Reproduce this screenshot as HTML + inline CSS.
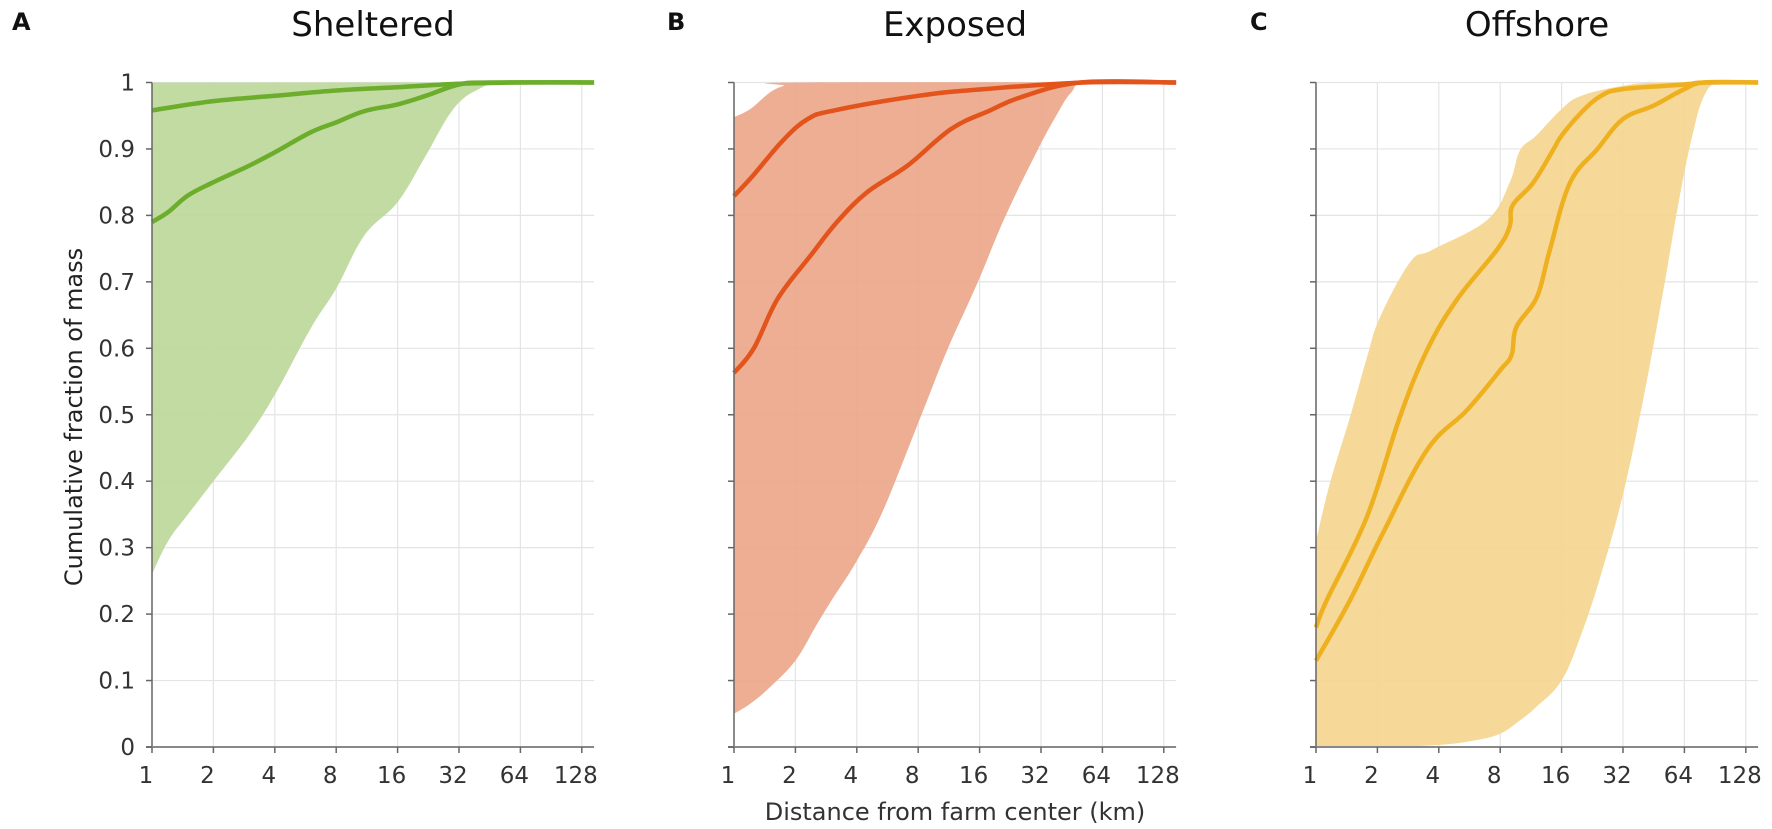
<!DOCTYPE html>
<html><head><meta charset="utf-8">
<style>
html,body{margin:0;padding:0;background:#fff;}
svg{display:block;font-family:"DejaVu Sans","Liberation Sans",sans-serif;}
</style></head>
<body>
<svg id="chart" width="1772" height="829" viewBox="0 0 1772 829" xmlns="http://www.w3.org/2000/svg">
<text x="0" y="0" transform="translate(82,417) rotate(-90)" text-anchor="middle" font-size="24" fill="#222">Cumulative fraction of mass</text>
<text x="955" y="820" text-anchor="middle" font-size="24" fill="#333">Distance from farm center (km)</text>
</svg>
<script>
// ---- data ----
const xTicks = [1, 2, 4, 8, 16, 32, 64, 128];
const xTickLabels = ["1", "2", "4", "8", "16", "32", "64", "128"];
const yTicks = [0, 0.1, 0.2, 0.3, 0.4, 0.5, 0.6, 0.7, 0.8, 0.9, 1];
const yTickLabels = ["0", "0.1", "0.2", "0.3", "0.4", "0.5", "0.6", "0.7", "0.8", "0.9", "1"];
const panelTitles = ["Sheltered", "Exposed", "Offshore"];
const panelLetters = ["A", "B", "C"];

// Sheltered
const aBandUpX = [1, 150];
const aBandUpY = [1, 1];
const aBandLoX = [1, 1.2, 1.5, 2, 3, 4, 6, 8, 11, 16, 22, 30, 40, 55, 150];
const aBandLoY = [0.26, 0.31, 0.35, 0.40, 0.47, 0.53, 0.63, 0.69, 0.77, 0.82, 0.89, 0.96, 0.99, 1, 1];
const aLine1X = [1, 2, 4, 8, 16, 32, 64, 150];
const aLine1Y = [0.958, 0.972, 0.98, 0.988, 0.993, 0.998, 1, 1];
const aLine2X = [1, 1.2, 1.5, 2, 3, 4, 6, 8, 11, 16, 22, 32, 45, 150];
const aLine2Y = [0.79, 0.805, 0.83, 0.85, 0.875, 0.895, 0.925, 0.94, 0.957, 0.967, 0.98, 0.997, 1, 1];

// Exposed
const bBandUpX = [1, 1.2, 1.5, 1.76, 2.1, 150];
const bBandUpY = [0.948, 0.96, 0.985, 0.995, 1, 1];
const bBandLoX = [1, 1.2, 1.5, 2, 2.5, 3, 4, 5.4, 8.3, 11.2, 15.7, 21.5, 31, 38, 45, 55, 150];
const bBandLoY = [0.05, 0.065, 0.09, 0.13, 0.18, 0.22, 0.28, 0.357, 0.5, 0.6, 0.7, 0.8, 0.9, 0.95, 0.985, 1, 1];
const bLine1X = [1, 1.24, 1.74, 2.3, 3.1, 8, 16.8, 52, 150];
const bLine1Y = [0.829, 0.86, 0.913, 0.945, 0.958, 0.98, 0.99, 1, 1];
const bLine2X = [1, 1.25, 1.64, 2.38, 3.2, 4.5, 7.1, 11.6, 18, 25.6, 50, 150];
const bLine2Y = [0.563, 0.6, 0.675, 0.74, 0.79, 0.835, 0.875, 0.93, 0.958, 0.978, 1, 1];

// Offshore
const cBandUpX = [1, 1.17, 1.47, 1.78, 2.06, 2.9, 3.7, 6.9, 8.9, 10, 12, 16, 20, 32, 50, 150];
const cBandUpY = [0.31, 0.397, 0.497, 0.587, 0.647, 0.73, 0.748, 0.793, 0.849, 0.898, 0.92, 0.96, 0.98, 0.995, 1, 1];
const cBandLoX = [1, 2, 4, 6, 8, 10, 12, 16, 20, 25, 32, 40, 50, 60, 70, 80, 95, 150];
const cBandLoY = [0, 0, 0.003, 0.01, 0.02, 0.04, 0.06, 0.1, 0.17, 0.26, 0.38, 0.52, 0.68, 0.82, 0.92, 0.98, 1, 1];
const cLine1X = [1, 1.13, 1.78, 2.58, 3.5, 4.9, 7.7, 8.9, 9.2, 11.6, 14.5, 16, 20, 25, 32, 64, 80, 150];
const cLine1Y = [0.18, 0.221, 0.347, 0.497, 0.597, 0.673, 0.748, 0.783, 0.815, 0.849, 0.898, 0.92, 0.955, 0.98, 0.99, 0.997, 1, 1];
const cLine2X = [1, 1.47, 2.13, 3.5, 5.5, 8, 9.1, 9.6, 12.1, 14, 17.6, 24, 32, 45, 64, 80, 150];
const cLine2Y = [0.13, 0.221, 0.322, 0.447, 0.507, 0.567, 0.59, 0.632, 0.677, 0.748, 0.849, 0.9, 0.945, 0.965, 0.99, 1, 1];

const panels = [
  {bandUpX: aBandUpX, bandUpY: aBandUpY, bandLoX: aBandLoX, bandLoY: aBandLoY, l1x: aLine1X, l1y: aLine1Y, l2x: aLine2X, l2y: aLine2Y, fill: "#bcd89b", line: "#6cad2c", key: "sheltered"},
  {bandUpX: bBandUpX, bandUpY: bBandUpY, bandLoX: bBandLoX, bandLoY: bBandLoY, l1x: bLine1X, l1y: bLine1Y, l2x: bLine2X, l2y: bLine2Y, fill: "#eba78a", line: "#e2541b", key: "exposed"},
  {bandUpX: cBandUpX, bandUpY: cBandUpY, bandLoX: cBandLoX, bandLoY: cBandLoY, l1x: cLine1X, l1y: cLine1Y, l2x: cLine2X, l2y: cLine2Y, fill: "#f5d690", line: "#efb01f", key: "offshore"}
];

// ---- layout ----
const NS = "http://www.w3.org/2000/svg";
const svg = document.getElementById("chart");
const panelX0 = [152, 734, 1316];
const letterX = [12, 667, 1250];
const octave = 61.4;
const xMaxLog = 7.2;
const yTop = 82.5, yBot = 747;
function yScale(v) { return yBot - v * (yBot - yTop); }
function mk(tag, attrs, parent) {
  const e = document.createElementNS(NS, tag);
  for (const k in attrs) e.setAttribute(k, attrs[k]);
  (parent || svg).appendChild(e);
  return e;
}
function clipLog(v) { return Math.min(Math.log2(v), xMaxLog); }
// Catmull-Rom smoothed path segment through points (without leading M if cont)
function smooth(pts, cont) {
  let d = (cont ? "L" : "M") + pts[0][0].toFixed(1) + "," + pts[0][1].toFixed(1);
  for (let i = 0; i < pts.length - 1; i++) {
    const p0 = pts[Math.max(0, i - 1)], p1 = pts[i], p2 = pts[i + 1], p3 = pts[Math.min(pts.length - 1, i + 2)];
    const t = 0.18;
    const c1x = p1[0] + (p2[0] - p0[0]) * t, c1y = p1[1] + (p2[1] - p0[1]) * t;
    const c2x = p2[0] - (p3[0] - p1[0]) * t, c2y = p2[1] - (p3[1] - p1[1]) * t;
    d += "C" + c1x.toFixed(1) + "," + c1y.toFixed(1) + " " + c2x.toFixed(1) + "," + c2y.toFixed(1) + " " + p2[0].toFixed(1) + "," + p2[1].toFixed(1);
  }
  return d;
}

panels.forEach((p, i) => {
  const x0 = panelX0[i];
  const xScale = v => x0 + clipLog(v) * octave;
  const xEnd = x0 + xMaxLog * octave;
  const g = mk("g", {});
  
  

  xTicks.forEach((t) => {
    const gl = mk("line", {x1: xScale(t), x2: xScale(t), y1: yTop, y2: yBot, stroke: "#e4e4e4", "stroke-width": 1.2}, g);
    
    
  });
  yTicks.forEach((t) => {
    const gl = mk("line", {x1: x0, x2: xEnd, y1: yScale(t), y2: yScale(t), stroke: "#e4e4e4", "stroke-width": 1.2}, g);
    
    
  });

  const up = p.bandUpX.map((x, k) => [xScale(x), yScale(p.bandUpY[k])]);
  const lo = p.bandLoX.map((x, k) => [xScale(x), yScale(p.bandLoY[k])]).reverse();
  const d = smooth(up, false) + smooth(lo, true) + "Z";
  const band = mk("path", {d: d, fill: p.fill, "fill-opacity": 0.92, stroke: "none"}, g);
  
  

  [[p.l1x, p.l1y, "upper"], [p.l2x, p.l2y, "lower"]].forEach(([xs, ys, nm]) => {
    const pts = xs.map((x, k) => [xScale(x), yScale(ys[k])]);
    const pl = mk("path", {d: smooth(pts, false), fill: "none", stroke: p.line, "stroke-width": 4.5, "stroke-linejoin": "round"}, g);
    
    
  });

  const ax = mk("line", {x1: x0, x2: x0, y1: yTop, y2: yBot, stroke: "#666", "stroke-width": 1.5}, g);
  
  
  const bx = mk("line", {x1: x0 - 6, x2: xEnd, y1: yBot, y2: yBot, stroke: "#888", "stroke-width": 2}, g);
  
  

  yTicks.forEach((t, j) => {
    const tk = mk("line", {x1: x0 - 6, x2: x0, y1: yScale(t), y2: yScale(t), stroke: "#666", "stroke-width": 1.5}, g);
    
    
    if (i === 0) {
      const lb = mk("text", {x: x0 - 17, y: yScale(t) + 8, "text-anchor": "end", "font-size": 23, fill: "#333"}, g);
      lb.textContent = yTickLabels[j];
      
      
    }
  });
  xTicks.forEach((t, j) => {
    const tk = mk("line", {x1: xScale(t), x2: xScale(t), y1: yBot, y2: yBot + 6, stroke: "#666", "stroke-width": 1.5}, g);
    
    
    const lb = mk("text", {x: xScale(t) - 6, y: yBot + 36, "text-anchor": "middle", "font-size": 23, fill: "#333"}, g);
    lb.textContent = xTickLabels[j];
    
    
  });

  const ti = mk("text", {x: x0 + xMaxLog * octave / 2, y: 36, "text-anchor": "middle", "font-size": 34, fill: "#111"}, g);
  ti.textContent = panelTitles[i];
  
  
  const le = mk("text", {x: letterX[i], y: 30, "font-size": 24, "font-weight": "bold", fill: "#111"}, g);
  le.textContent = panelLetters[i];
  
  
});
</script>
</body></html>
